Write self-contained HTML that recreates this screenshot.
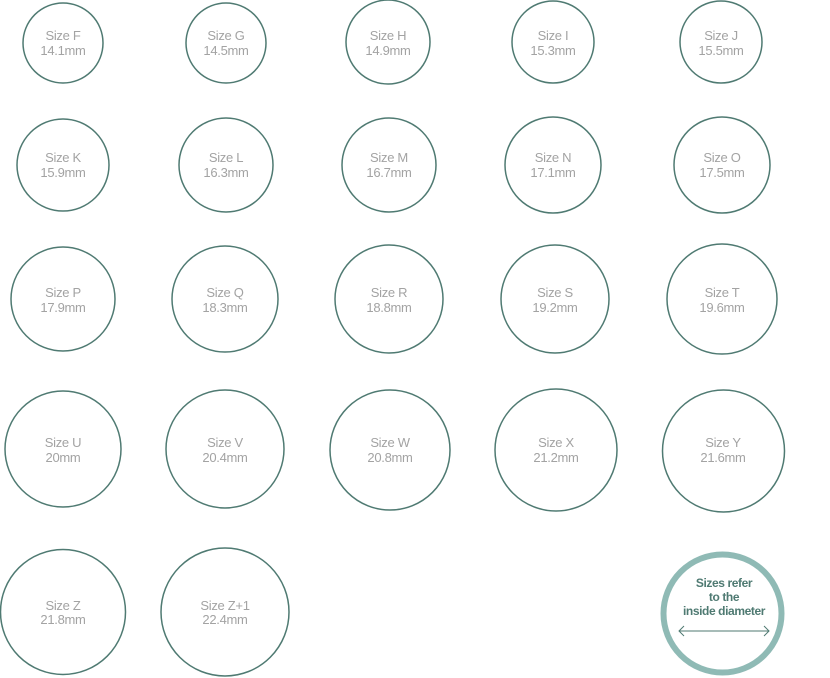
<!DOCTYPE html>
<html><head><meta charset="utf-8"><style>
html,body{margin:0;padding:0;background:#fff;}
svg{display:block;}
.c{fill:none;stroke:#4f7a72;stroke-width:1.5;}
.t{font-family:"Liberation Sans",sans-serif;font-size:13px;fill:#a3a3a3;text-anchor:middle;letter-spacing:-0.3px;}
.b{font-family:"Liberation Sans",sans-serif;font-size:12px;font-weight:bold;fill:#4f7a72;text-anchor:middle;letter-spacing:-0.4px;}
</style></head><body>
<svg width="830" height="678" viewBox="0 0 830 678" xmlns="http://www.w3.org/2000/svg">
<g>
<circle class="c" cx="63" cy="43" r="40"/><text class="t" x="63" y="40">Size F</text><text class="t" x="63" y="55">14.1mm</text>
<circle class="c" cx="226" cy="43" r="40"/><text class="t" x="226" y="40">Size G</text><text class="t" x="226" y="55">14.5mm</text>
<circle class="c" cx="388" cy="42" r="42"/><text class="t" x="388" y="40">Size H</text><text class="t" x="388" y="55">14.9mm</text>
<circle class="c" cx="553" cy="42" r="41"/><text class="t" x="553" y="40">Size I</text><text class="t" x="553" y="55">15.3mm</text>
<circle class="c" cx="721" cy="42" r="41"/><text class="t" x="721" y="40">Size J</text><text class="t" x="721" y="55">15.5mm</text>

<circle class="c" cx="63" cy="165" r="46"/><text class="t" x="63" y="162">Size K</text><text class="t" x="63" y="177">15.9mm</text>
<circle class="c" cx="226" cy="165" r="47"/><text class="t" x="226" y="162">Size L</text><text class="t" x="226" y="177">16.3mm</text>
<circle class="c" cx="389" cy="165" r="47"/><text class="t" x="389" y="162">Size M</text><text class="t" x="389" y="177">16.7mm</text>
<circle class="c" cx="553" cy="165" r="48"/><text class="t" x="553" y="162">Size N</text><text class="t" x="553" y="177">17.1mm</text>
<circle class="c" cx="722" cy="165" r="48"/><text class="t" x="722" y="162">Size O</text><text class="t" x="722" y="177">17.5mm</text>

<circle class="c" cx="63" cy="299" r="52"/><text class="t" x="63" y="297">Size P</text><text class="t" x="63" y="312">17.9mm</text>
<circle class="c" cx="225" cy="299" r="53"/><text class="t" x="225" y="297">Size Q</text><text class="t" x="225" y="312">18.3mm</text>
<circle class="c" cx="389" cy="299" r="54"/><text class="t" x="389" y="297">Size R</text><text class="t" x="389" y="312">18.8mm</text>
<circle class="c" cx="555" cy="299" r="54"/><text class="t" x="555" y="297">Size S</text><text class="t" x="555" y="312">19.2mm</text>
<circle class="c" cx="722" cy="299" r="55"/><text class="t" x="722" y="297">Size T</text><text class="t" x="722" y="312">19.6mm</text>

<circle class="c" cx="63" cy="449" r="58"/><text class="t" x="63" y="447">Size U</text><text class="t" x="63" y="462">20mm</text>
<circle class="c" cx="225" cy="449" r="59"/><text class="t" x="225" y="447">Size V</text><text class="t" x="225" y="462">20.4mm</text>
<circle class="c" cx="390" cy="450" r="60"/><text class="t" x="390" y="447">Size W</text><text class="t" x="390" y="462">20.8mm</text>
<circle class="c" cx="556" cy="450" r="61"/><text class="t" x="556" y="447">Size X</text><text class="t" x="556" y="462">21.2mm</text>
<circle class="c" cx="723.5" cy="451" r="61"/><text class="t" x="723" y="447">Size Y</text><text class="t" x="723" y="462">21.6mm</text>

<circle class="c" cx="63" cy="612" r="62.5"/><text class="t" x="63" y="610">Size Z</text><text class="t" x="63" y="624">21.8mm</text>
<circle class="c" cx="225" cy="612" r="64"/><text class="t" x="225" y="610">Size Z+1</text><text class="t" x="225" y="624">22.4mm</text>

<circle cx="722.5" cy="613.5" r="59" fill="none" stroke="#8fbab5" stroke-width="6"/>
<text class="b" x="724" y="587">Sizes refer</text>
<text class="b" x="724" y="601">to the</text>
<text class="b" x="724" y="615">inside diameter</text>
<line x1="679" y1="631" x2="769" y2="631" stroke="#4f7a72" stroke-width="1"/>
<polyline points="684,626 679,631 684,636" fill="none" stroke="#4f7a72" stroke-width="1"/>
<polyline points="764,626 769,631 764,636" fill="none" stroke="#4f7a72" stroke-width="1"/>
</g>
</svg>
</body></html>
